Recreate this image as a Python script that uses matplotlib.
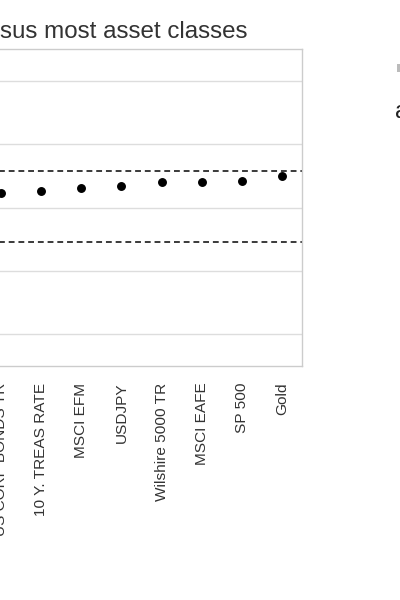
import matplotlib
matplotlib.use("Agg")
import matplotlib.pyplot as plt
from matplotlib.patches import Rectangle

plt.rcParams['font.family'] = ['Liberation Sans', 'DejaVu Sans']

# Data
categories = ["US CORP BONDS TR", "10 Y. TREAS RATE", "MSCI EFM", "USDJPY",
              "Wilshire 5000 TR", "MSCI EAFE", "SP 500", "Gold"]
correlations = [0.116, 0.130, 0.152, 0.173, 0.202, 0.205, 0.206, 0.250]
upper_bound = 0.286
lower_bound = -0.276
y_ticks = [-1.0, -0.5, 0.0, 0.5, 1.0]
title_text = "Correlation versus most asset classes"
legend_text = "a"

W, H = 400, 600
fig = plt.figure(figsize=(W / 100, H / 100), dpi=100)

ax_left, ax_right, ax_top, ax_bottom = -19, 302, 49, 366
ax = fig.add_axes([ax_left / W, 1 - ax_bottom / H,
                   (ax_right - ax_left) / W, (ax_bottom - ax_top) / H])

x = list(range(len(categories)))
ax.plot(x, correlations, linestyle='none', marker='o', markersize=5.4,
        color='black', zorder=3)
ax.axhline(upper_bound, color='#3a3a3a', linestyle=(0, (3, 2)), linewidth=1.4, zorder=2)
ax.axhline(lower_bound, color='#3a3a3a', linestyle=(0, (3, 2)), linewidth=1.4, zorder=2)

ax.set_xlim(-0.5, len(categories) - 0.5)
ax.set_ylim(-1.25, 1.25)
ax.set_yticks(y_ticks)
ax.set_yticklabels([])
ax.tick_params(axis='y', length=0)
ax.grid(axis='y', color='#dddddd', linewidth=1)
ax.set_axisbelow(True)
ax.set_xticks(x)
ax.set_xticklabels(categories, rotation=90, fontsize=11.1, color='#333333')
ax.tick_params(axis='x', length=0, pad=12)
for s in ax.spines.values():
    s.set_color('#cccccc')
    s.set_linewidth(1)

fig.text(247 / W, 1 - 38 / H, title_text, ha='right', va='baseline',
         fontsize=17.4, color='#333333')

fig.patches.append(Rectangle((397 / W, 1 - 72 / H), 8 / W, 8 / H,
                             transform=fig.transFigure, facecolor='#bbbbbb',
                             edgecolor='none'))
fig.text(395 / W, 1 - 118 / H, legend_text, ha='left', va='baseline',
         fontsize=17, color='#222222')

fig.savefig("out.png", dpi=100)
